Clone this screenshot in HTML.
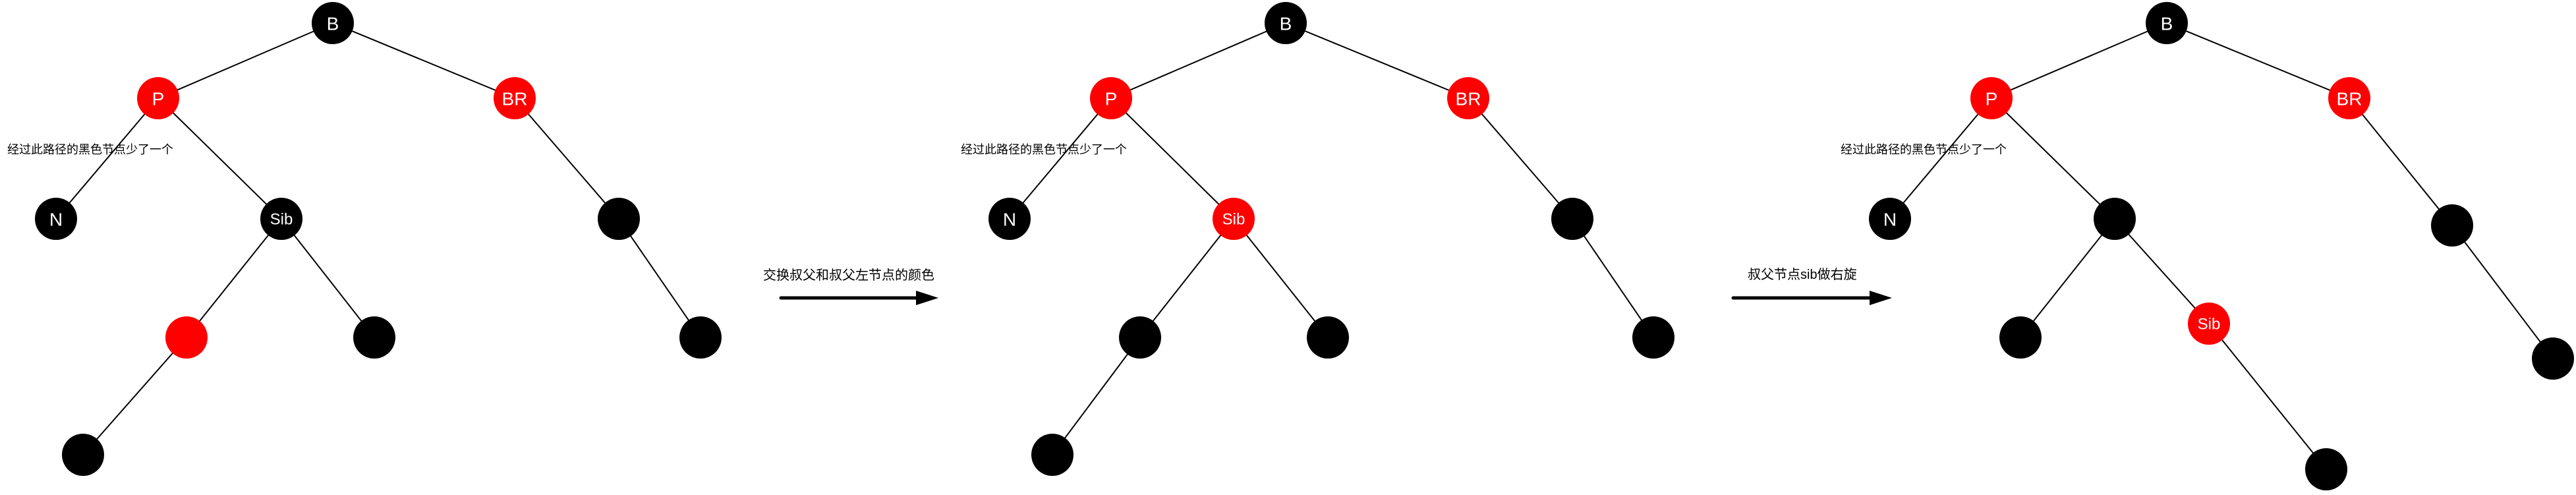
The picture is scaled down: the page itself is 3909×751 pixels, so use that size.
<!DOCTYPE html>
<html><head><meta charset="utf-8"><style>
html,body{margin:0;padding:0;background:#fff;}
svg{display:block;}
text{font-family:"Liberation Sans","Noto Sans CJK SC",sans-serif;}
.n{fill:#fff;text-anchor:middle;dominant-baseline:central;}
</style></head><body>
<svg width="3909" height="751" viewBox="0 0 3909 751" xmlns="http://www.w3.org/2000/svg">
<g stroke="#000" stroke-width="2" fill="none">
<!-- tree1 -->
<line x1="505" y1="35" x2="240" y2="149"/><line x1="505" y1="35" x2="781" y2="149"/>
<line x1="240" y1="149" x2="85" y2="332"/><line x1="240" y1="149" x2="427" y2="332"/>
<line x1="781" y1="149" x2="939" y2="332"/><line x1="427" y1="332" x2="283" y2="512"/>
<line x1="427" y1="332" x2="568" y2="512"/><line x1="939" y1="332" x2="1063" y2="512"/>
<line x1="283" y1="512" x2="126" y2="690"/>
<!-- tree2 -->
<line x1="1951" y1="35" x2="1686" y2="149"/><line x1="1951" y1="35" x2="2228" y2="149"/>
<line x1="1686" y1="149" x2="1532" y2="332"/><line x1="1686" y1="149" x2="1872" y2="332"/>
<line x1="2228" y1="149" x2="2386" y2="332"/><line x1="1872" y1="332" x2="1730" y2="512"/>
<line x1="1872" y1="332" x2="2015" y2="512"/><line x1="2386" y1="332" x2="2509" y2="512"/>
<line x1="1730" y1="512" x2="1597" y2="690"/>
<!-- tree3 -->
<line x1="3288" y1="35" x2="3022" y2="149"/><line x1="3288" y1="35" x2="3565" y2="149"/>
<line x1="3022" y1="149" x2="2868" y2="332"/><line x1="3022" y1="149" x2="3209" y2="332"/>
<line x1="3565" y1="149" x2="3721" y2="342"/><line x1="3209" y1="332" x2="3066" y2="512"/>
<line x1="3209" y1="332" x2="3352" y2="491"/><line x1="3352" y1="491" x2="3530" y2="712"/>
<line x1="3721" y1="342" x2="3874" y2="544"/>
</g>
<g>
<!-- tree1 nodes -->
<circle cx="505" cy="35" r="32" fill="#000"/><circle cx="240" cy="149" r="32" fill="#f00"/>
<circle cx="781" cy="149" r="32" fill="#f00"/><circle cx="85" cy="332" r="32" fill="#000"/>
<circle cx="427" cy="332" r="32" fill="#000"/><circle cx="939" cy="332" r="32" fill="#000"/>
<circle cx="283" cy="512" r="32" fill="#f00"/><circle cx="568" cy="512" r="32" fill="#000"/>
<circle cx="1063" cy="512" r="32" fill="#000"/><circle cx="126" cy="690" r="32" fill="#000"/>
<!-- tree2 nodes -->
<circle cx="1951" cy="35" r="32" fill="#000"/><circle cx="1686" cy="149" r="32" fill="#f00"/>
<circle cx="2228" cy="149" r="32" fill="#f00"/><circle cx="1532" cy="332" r="32" fill="#000"/>
<circle cx="1872" cy="332" r="32" fill="#f00"/><circle cx="2386" cy="332" r="32" fill="#000"/>
<circle cx="1730" cy="512" r="32" fill="#000"/><circle cx="2015" cy="512" r="32" fill="#000"/>
<circle cx="2509" cy="512" r="32" fill="#000"/><circle cx="1597" cy="690" r="32" fill="#000"/>
<!-- tree3 nodes -->
<circle cx="3288" cy="35" r="32" fill="#000"/><circle cx="3022" cy="149" r="32" fill="#f00"/>
<circle cx="3565" cy="149" r="32" fill="#f00"/><circle cx="2868" cy="332" r="32" fill="#000"/>
<circle cx="3209" cy="332" r="32" fill="#000"/><circle cx="3721" cy="342" r="32" fill="#000"/>
<circle cx="3066" cy="512" r="32" fill="#000"/><circle cx="3352" cy="491" r="32" fill="#f00"/>
<circle cx="3530" cy="712" r="32" fill="#000"/><circle cx="3874" cy="544" r="32" fill="#000"/>
</g>
<g class="n" font-size="28">
<text class="n" x="505" y="36">B</text><text class="n" x="240" y="150">P</text>
<text class="n" x="781" y="150">BR</text><text class="n" x="85" y="333">N</text>
<text class="n" x="427" y="333" font-size="24">Sib</text>
<text class="n" x="1951" y="36">B</text><text class="n" x="1686" y="150">P</text>
<text class="n" x="2228" y="150">BR</text><text class="n" x="1532" y="333">N</text>
<text class="n" x="1872" y="333" font-size="24">Sib</text>
<text class="n" x="3288" y="36">B</text><text class="n" x="3022" y="150">P</text>
<text class="n" x="3565" y="150">BR</text><text class="n" x="2868" y="333">N</text>
<text class="n" x="3352" y="492" font-size="24">Sib</text>
</g>
<g font-size="18" fill="#000">
<text x="11" y="233">经过此路径的黑色节点少了一个</text>
<text x="1458" y="233">经过此路径的黑色节点少了一个</text>
<text x="2793" y="233">经过此路径的黑色节点少了一个</text>
</g>
<g font-size="20" fill="#000">
<text x="1158" y="424">交换叔父和叔父左节点的颜色</text>
<text x="2652" y="423">叔父节点sib做右旋</text>
</g>
<line x1="1185" y1="452" x2="1395" y2="452" stroke="#000" stroke-width="5" stroke-linecap="round"/>
<polygon points="1390,441 1424,452 1390,463" fill="#000"/>
<line x1="2630" y1="452" x2="2840" y2="452" stroke="#000" stroke-width="5" stroke-linecap="round"/>
<polygon points="2837,441 2871,452 2837,463" fill="#000"/>
</svg>
</body></html>
